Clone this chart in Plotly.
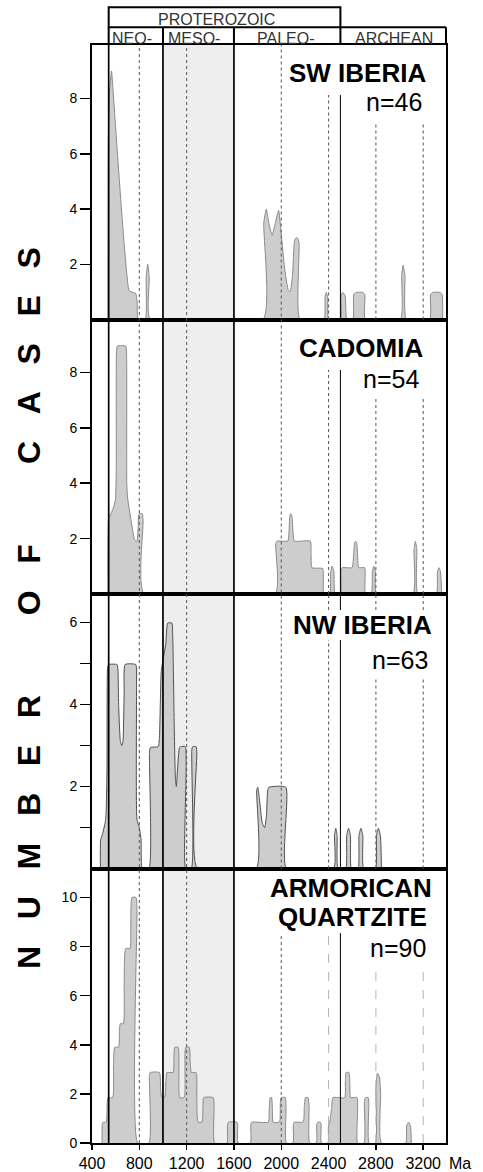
import plotly.graph_objects as go
from plotly.subplots import make_subplots

# ---------------- data (ages in Ma, number of cases) ----------------
age_ticks = [400, 800, 1200, 1600, 2000, 2400, 2800, 3200]

panel_names = ["SW IBERIA", "CADOMIA", "NW IBERIA", "ARMORICAN QUARTZITE"]
panel_n = [46, 54, 63, 90]

sw_iberia_age = [535, 538, 548, 565, 573, 713, 730, 769, 782, 790,
                 850, 858, 871, 884, 893,
                 1846, 1852, 1874, 1890, 1922, 1950, 1978, 1995, 2030, 2060, 2075, 2095, 2115, 2133, 2150, 2158,
                 2361, 2370, 2381, 2392, 2401,
                 2502, 2505, 2520, 2540, 2555,
                 2606, 2612, 2630, 2690, 2706, 2711,
                 3007, 3018, 3030, 3045, 3058,
                 3255, 3262, 3280, 3345, 3360, 3364]
sw_iberia_cases = [0, 6.5, 8.2, 9.0, 8.6, 1.05, 1.0, 0.95, 0.6, 0,
                   0, 1.5, 2.0, 1.5, 0,
                   0, 3.5, 4.0, 3.6, 3.05, 3.5, 3.95, 3.3, 1.8, 1.05, 1.0, 1.6, 2.9, 2.97, 2.8, 0,
                   0, 0.8, 0.98, 0.8, 0,
                   0, 0.85, 0.98, 0.85, 0,
                   0, 0.9, 0.98, 0.98, 0.9, 0,
                   0, 1.6, 1.97, 1.6, 0,
                   0, 0.9, 0.98, 0.98, 0.9, 0]

cadomia_age = [535, 540, 550, 580, 598, 605, 607, 615, 685, 692, 694, 700, 740, 761, 780, 790, 798, 825, 832, 840,
               1950, 1953, 1965, 2055, 2065, 2072, 2080, 2090, 2100, 2110, 2245, 2252, 2260, 2350, 2356, 2360,
               2410, 2418, 2430, 2445, 2455,
               2502, 2505, 2515, 2598, 2610, 2620, 2629, 2638, 2646, 2655, 2705, 2711,
               2762, 2770, 2782, 2795, 2804,
               3113, 3122, 3134, 3146, 3155,
               3311, 3320, 3333, 3346, 3356]
cadomia_cases = [0, 2.7, 2.8, 3.1, 3.4, 4.5, 8.7, 8.95, 8.95, 8.7, 4.0, 3.5, 2.4, 1.95, 1.9, 2.4, 2.9, 2.9, 2.6, 0,
                 0, 1.8, 1.91, 1.91, 2.2, 2.8, 2.9, 2.8, 2.2, 1.91, 1.91, 1.5, 0.95, 0.92, 0.7, 0,
                 0, 0.8, 1.0, 0.8, 0,
                 0, 0.85, 0.95, 0.95, 1.3, 1.85, 1.9, 1.85, 1.3, 0.95, 0.95, 0,
                 0, 0.8, 1.0, 0.8, 0,
                 0, 1.6, 1.9, 1.6, 0,
                 0, 0.8, 0.95, 0.8, 0]

nw_iberia_age = [471, 473, 490, 516, 527, 532, 540, 612, 620, 625, 640, 652, 662, 672, 680, 770, 776, 780, 800, 815, 825,
                 882, 886, 894, 960, 970, 985, 995, 1025, 1040, 1075, 1082, 1095, 1105, 1113, 1125, 1140, 1150, 1188, 1192,
                 1240, 1244, 1252, 1280, 1286, 1290,
                 1789, 1792, 1801, 1815, 1840, 1860, 1875, 1885, 1896, 2038, 2043,
                 2443, 2450, 2461, 2472, 2480,
                 2545, 2553, 2569, 2585, 2593,
                 2649, 2657, 2673, 2689, 2697,
                 2796, 2805, 2821, 2838, 2847]
nw_iberia_cases = [0, 0.7, 0.85, 1.2, 2.5, 4.9, 4.97, 4.97, 4.8, 4.0, 3.1, 3.0, 3.1, 4.3, 4.97, 4.97, 4.5, 1.2, 1.0, 0.7, 0,
                   0, 2.8, 2.95, 2.97, 3.2, 4.8, 5.0, 5.5, 5.98, 5.98, 5.7, 3.5, 2.2, 2.0, 2.5, 2.95, 2.97, 2.97, 0,
                   0, 2.9, 2.97, 2.97, 2.8, 0,
                   0, 1.9, 1.98, 1.7, 1.1, 1.0, 1.3, 1.9, 1.98, 1.98, 0,
                   0, 0.8, 0.98, 0.8, 0,
                   0, 0.8, 0.98, 0.8, 0,
                   0, 0.8, 0.98, 0.8, 0,
                   0, 0.8, 0.98, 0.8, 0]

armorican_age = [485, 488, 495, 520, 528, 535, 575, 582, 592, 625, 632, 640, 665, 672, 685, 722, 728, 738, 772, 780, 786,
                 882, 885, 892, 970, 980, 990, 1015, 1025, 1034, 1086, 1093, 1100, 1128, 1135, 1141, 1180, 1186, 1192,
                 1222, 1230, 1240, 1280, 1286, 1296, 1330, 1338, 1344, 1425, 1432, 1437,
                 1541, 1545, 1555, 1625, 1632, 1636,
                 1739, 1742, 1750, 1890, 1898, 1907, 1918, 1925, 1932, 1985, 1992, 2000, 2034, 2040, 2043,
                 2099, 2102, 2110, 2185, 2195, 2205, 2225, 2235, 2240,
                 2297, 2300, 2310, 2330, 2337, 2339,
                 2395, 2398, 2410, 2425, 2437, 2536, 2542, 2548, 2572, 2580, 2586, 2640, 2645,
                 2700, 2703, 2712, 2735, 2740, 2742,
                 2796, 2800, 2813, 2830, 2840, 2847,
                 3052, 3060, 3077, 3092, 3100]
armorican_cases = [0, 0.8, 0.85, 0.85, 1.6, 1.85, 1.85, 3.2, 3.9, 3.9, 4.6, 4.86, 4.86, 6.5, 7.92, 7.92, 8.6, 10.0, 10.0, 9.5, 0,
                   0, 2.7, 2.87, 2.87, 2.2, 1.85, 1.85, 2.5, 2.87, 2.87, 3.5, 3.9, 3.9, 3.0, 1.85, 1.85, 3.0, 3.9,
                   3.9, 3.3, 2.87, 2.87, 2.0, 0.85, 0.85, 1.5, 1.85, 1.85, 1.5, 0,
                   0, 0.75, 0.85, 0.85, 0.75, 0,
                   0, 0.75, 0.85, 0.85, 1.4, 1.85, 1.85, 1.4, 0.85, 0.85, 1.6, 1.85, 1.85, 1.4, 0,
                   0, 0.75, 0.85, 0.85, 1.5, 1.85, 1.85, 1.5, 0,
                   0, 0.75, 0.85, 0.85, 0.75, 0,
                   0, 0.65, 0.85, 1.4, 1.85, 1.85, 2.5, 2.87, 2.87, 2.4, 1.85, 1.85, 0,
                   0, 1.7, 1.85, 1.85, 1.6, 0,
                   0, 2.2, 2.85, 2.7, 2.0, 0,
                   0, 0.7, 0.85, 0.7, 0]

# ---------------- geometry / styling ----------------
W, H = 483, 1172
ML, MR, MT, MB = 92, 37, 45, 29
PLOT_TOP = MT
PLOT_BOT = H - MB
PLOT_H = PLOT_BOT - PLOT_TOP
PLOT_W = W - ML - MR
X_MIN = 400
PX_PER_MA = 0.11829
X_MAX = X_MIN + PLOT_W / PX_PER_MA

FONT = "Liberation Sans, Arial, Helvetica, sans-serif"


def yp(px):
    return (PLOT_BOT - px) / PLOT_H


def xp_ma(ma):
    return (ma - X_MIN) / (X_MAX - X_MIN)


def xp_px(px):
    return (px - ML) / PLOT_W


panels = [
    (sw_iberia_age, sw_iberia_cases, "#8a8a8a"),
    (cadomia_age, cadomia_cases, "#8a8a8a"),
    (nw_iberia_age, nw_iberia_cases, "#505050"),
    (armorican_age, armorican_cases, "#8a8a8a"),
]
y_ranges = [[0, 9.94], [0, 9.91], [0, 6.69], [0, 11.18]]
y_tickvals = [[2, 4, 6, 8], [2, 4, 6, 8], [1, 2, 3, 4, 5, 6], [0, 2, 4, 6, 8, 10]]
y_ticktext = [["2", "4", "6", "8"], ["2", "4", "6", "8"], ["", "2", "", "4", "", "6"],
              ["0", "2", "4", "6", "8", "10"]]

fig = make_subplots(rows=4, cols=1, shared_xaxes=True, vertical_spacing=0)

for i, (ages, cases, lc) in enumerate(panels):
    fig.add_trace(go.Scatter(
        x=ages, y=cases, mode="lines",
        line=dict(color=lc, width=1, shape="spline", smoothing=0.5),
        fill="tozeroy", fillcolor="#cdcdcd",
        hoverinfo="skip", showlegend=False), row=i + 1, col=1)

for i in range(4):
    fig.update_yaxes(
        range=y_ranges[i], tickvals=y_tickvals[i], ticktext=y_ticktext[i],
        ticks="outside", ticklen=10, tickwidth=1.5, tickcolor="black",
        showline=True, linewidth=2, linecolor="black", mirror=True,
        showgrid=False, zeroline=False, automargin=False,
        tickfont=dict(family=FONT, size=14, color="black"),
        row=i + 1, col=1)
    fig.update_xaxes(
        range=[X_MIN, X_MAX], showline=True, linewidth=2, linecolor="black",
        mirror=True, showgrid=False, zeroline=False, automargin=False,
        showticklabels=(i == 3), ticks="outside" if i == 3 else "",
        tickvals=age_ticks, ticklen=5, tickwidth=1.5, tickcolor="black",
        tickfont=dict(family=FONT, size=16, color="black"),
        row=i + 1, col=1)

shapes = []
# Mesoproterozoic shading
shapes.append(dict(type="rect", xref="x", yref="paper", x0=1000, x1=1600, y0=0, y1=1,
                   fillcolor="#eeeeee", line=dict(width=0), layer="below"))

solid = dict(color="black", width=1.7)
thin = dict(color="black", width=1)
dotted = dict(color="#555555", width=1, dash="dot")
light = dict(color="#b5b5b5", width=1, dash="dash")


def vline(x, segs, line):
    for a, b in segs:
        shapes.append(dict(type="line", xref="x", yref="paper", x0=x, x1=x,
                           y0=yp(b), y1=yp(a), line=line))


full = [(PLOT_TOP, PLOT_BOT)]
vline(800, full, dotted)
vline(1200, full, dotted)
vline(2000, [(PLOT_TOP, 868.5)], dotted)
vline(2000, [(933, PLOT_BOT)], dotted)
seg24 = [(95, 319.5), (370, 594), (594, 610), (640, 868.5)]
seg28 = [(122, 319.5), (398, 594), (594, 610), (678, 868.5)]
vline(2400, seg24, dotted)
vline(2400, [(933, PLOT_BOT)], light)
vline(2500, seg24 + [(933, PLOT_BOT)], thin)
vline(2800, seg28, dotted)
vline(3200, seg28, dotted)
vline(2800, [(967, PLOT_BOT)], light)
vline(3200, [(967, PLOT_BOT)], light)
vline(541, full, solid)
vline(1000, full, solid)
vline(1600, full, solid)

# geological time header
hl = dict(color="black", width=2)
r1_top, r1_bot, r2_bot = 7.3, 27.3, PLOT_TOP
shapes.append(dict(type="rect", xref="paper", yref="paper", x0=xp_ma(541), x1=xp_ma(2500),
                   y0=yp(r1_bot), y1=yp(r1_top), line=hl))
shapes.append(dict(type="line", xref="paper", yref="paper", x0=xp_ma(2500), x1=1.0,
                   y0=yp(r1_bot), y1=yp(r1_bot), line=hl))
for b in [541, 1000, 1600, 2500]:
    shapes.append(dict(type="line", xref="paper", yref="paper", x0=xp_ma(b), x1=xp_ma(b),
                       y0=yp(r2_bot), y1=yp(r1_bot), line=hl))
shapes.append(dict(type="line", xref="paper", yref="paper", x0=1.0, x1=1.0,
                   y0=yp(r2_bot), y1=yp(r1_bot), line=hl))

annotations = []


def txt(text, x, y, size, bold=False, xanchor="center", xref="paper", color="black", angle=0):
    annotations.append(dict(
        text=("<b>%s</b>" % text) if bold else text, x=x, y=y, xref=xref, yref="paper",
        xanchor=xanchor, yanchor="middle", showarrow=False, textangle=angle,
        font=dict(family=FONT, size=size, color=color)))


hc = "#333333"
txt("PROTEROZOIC", xp_ma(1450), yp(19.5), 16, color=hc)
txt("NEO-", xp_ma(740), yp(39), 16, color=hc)
txt("MESO-", xp_ma(1261), yp(39), 16, color=hc)
txt("PALEO-", xp_ma(2043), yp(39), 16, color=hc)
txt("ARCHEAN", xp_ma(2951), yp(39), 16, color=hc)

# panel labels
txt(panel_names[0], 3240, yp(73), 26, bold=True, xanchor="right", xref="x")
txt("n=%d" % panel_n[0], 3207, yp(102), 25, xanchor="right", xref="x")
txt(panel_names[1], 3213, yp(348.5), 26, bold=True, xanchor="right", xref="x")
txt("n=%d" % panel_n[1], 3178, yp(378.5), 25, xanchor="right", xref="x")
txt(panel_names[2], 3289, yp(625), 26, bold=True, xanchor="right", xref="x")
txt("n=%d" % panel_n[2], 3256, yp(660), 25, xanchor="right", xref="x")
w1, w2 = panel_names[3].split(" ")
txt(w1, 2591, yp(888), 26, bold=True, xref="x")
txt(w2, 2600, yp(917), 26, bold=True, xref="x")
txt("n=%d" % panel_n[3], 3238, yp(947.5), 25, xanchor="right", xref="x")

# unit label for x axis
txt("Ma", xp_px(447), yp(1163), 16, xanchor="left")

# y-axis title
sp = "\u00a0" * 3
wsp = "\u00a0" * 9
title = wsp.join(sp.join(list(w)) for w in ["NUMBER", "OF", "CASES"])
txt(title, xp_px(29), yp(608), 32, bold=True, angle=-90)

fig.update_layout(
    width=W, height=H,
    margin=dict(l=ML, r=MR, t=MT, b=MB, autoexpand=False),
    plot_bgcolor="white", paper_bgcolor="white",
    shapes=shapes, annotations=annotations,
    showlegend=False,
)

fig.write_html("out.html", config={"displayModeBar": False, "staticPlot": True},
               post_script="document.body.style.margin='0';")
